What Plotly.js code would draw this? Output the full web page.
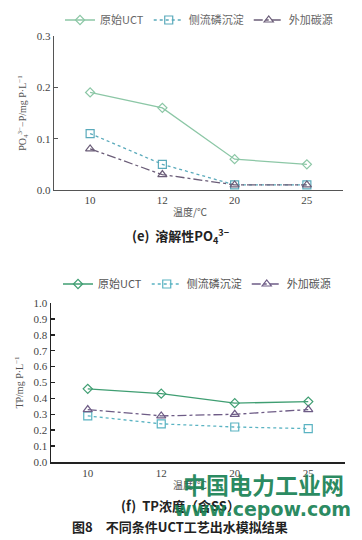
<!DOCTYPE html>
<html><head><meta charset="utf-8">
<script src="https://cdn.plot.ly/plotly-3.0.1.min.js"></script>
<style>body{margin:0;background:#fff}#c{width:362px;height:540px}</style>
</head><body><div id="c"></div>
<script>
const categories = ['10','12','20','25'];
const seriesNames = ['原始UCT','侧流磷沉淀','外加碳源'];
// (e) soluble PO4 3-
const poUCT = [0.19, 0.16, 0.06, 0.05];
const poSide = [0.11, 0.05, 0.01, 0.01];
const poCarbon = [0.08, 0.03, 0.01, 0.01];
// (f) TP
const tpUCT = [0.46, 0.43, 0.37, 0.38];
const tpSide = [0.29, 0.24, 0.22, 0.21];
const tpCarbon = [0.33, 0.29, 0.30, 0.33];
const yTicksTop = [0, 0.1, 0.2, 0.3];
const yTicksBot = [0,0.1,0.2,0.3,0.4,0.5,0.6,0.7,0.8,0.9,1.0];

const topCols = ['#8cc7a6','#5aaabb','#6b5d78'];
const botCols = ['#3f9e72','#5ab3c2','#6e5c86'];
const dashes = ['solid','dot','dashdot'];
const syms = ['diamond-open','square-open','triangle-up-open'];
const msz = [7,8,8];

function mk(y, i, cols, xa, ya, lg){
  return {x: categories, y: y, name: seriesNames[i], type:'scatter', mode:'lines+markers',
    xaxis: xa, yaxis: ya, legend: lg,
    line:{color: cols[i], width: 1.3, dash: dashes[i]},
    marker:{symbol: syms[i], size: msz[i], color: cols[i], line:{width:1.2, color: cols[i]}}};
}
const data = [
  mk(poUCT,0,topCols,'x','y','legend'), mk(poSide,1,topCols,'x','y','legend'), mk(poCarbon,2,topCols,'x','y','legend'),
  mk(tpUCT,0,botCols,'x2','y2','legend2'), mk(tpSide,1,botCols,'x2','y2','legend2'), mk(tpCarbon,2,botCols,'x2','y2','legend2')
];
const tickFont = {family:'Liberation Serif, serif', size:11, color:'#444'};
const xcommon = {type:'category', range:[-0.5,3.5], showgrid:false, zeroline:false, showline:true,
  linecolor:'#555', linewidth:1.2, ticks:'', tickfont: tickFont, fixedrange:true};
const ycommon = {showgrid:false, zeroline:false, showline:true, linecolor:'#555', linewidth:1.2,
  ticks:'inside', ticklen:4, tickcolor:'#555', tickfont: tickFont, tickformat:'.1f'};
const W=362, H=540;
const green = 'rgba(22,128,82,0.92)';
function ann(text, x, y, font){
  return {text:text, x:x/W, y:1-y/H, xref:'paper', yref:'paper', xanchor:'center', yanchor:'middle', showarrow:false, font:font};
}
const layout = {
  width: W, height: H, margin:{l:0,r:0,t:0,b:0}, paper_bgcolor:'#fff', plot_bgcolor:'#fff',
  showlegend:true,
  xaxis: Object.assign({}, xcommon, {domain:[54/W, 343/W], anchor:'y'}),
  yaxis: Object.assign({}, ycommon, {domain:[1-190/H, 1-36/H], range:[0,0.3], tickvals:yTicksTop, anchor:'x',
    title:{text:'PO<sub>4</sub><sup>3−</sup>−P/mg P·L<sup>−1</sup>', font:{family:'Liberation Serif, Noto Sans CJK SC, serif', size:10, color:'#555'}, standoff:8}}),
  xaxis2: Object.assign({}, xcommon, {domain:[51/W, 345/W], anchor:'y2', linecolor:'#222', linewidth:1.5}),
  yaxis2: Object.assign({}, ycommon, {domain:[1-462/H, 1-303/H], range:[0,1.0], tickvals:yTicksBot, anchor:'x2',
    linecolor:'#222', linewidth:1.5, tickcolor:'#222', tickwidth:1.5,
    title:{text:'TP/mg P·L<sup>−1</sup>', font:{family:'Liberation Serif, serif', size:10, color:'#555'}, standoff:8}}),
  legend: {orientation:'h', x:60/W, y:1-20/H, xanchor:'left', yanchor:'middle', bgcolor:'rgba(0,0,0,0)',
    font:{family:'Noto Sans CJK SC, sans-serif', size:11, color:'#666'}, itemwidth:30, traceorder:'normal'},
  legend2: {orientation:'h', x:58/W, y:1-284/H, xanchor:'left', yanchor:'middle', bgcolor:'rgba(0,0,0,0)',
    font:{family:'Noto Sans CJK SC, sans-serif', size:11, color:'#555'}, itemwidth:30, traceorder:'normal'},
  annotations: [
    ann('温度/℃', 190, 211, {family:'Noto Sans CJK SC', size:10, color:'#555'}),
    ann('<b>(e)  溶解性PO<sub>4</sub><sup>3−</sup></b>', 180, 236, {family:'Noto Sans CJK SC, Liberation Serif', size:13, color:'#222'}),
    ann('温度/℃', 190, 484, {family:'Noto Sans CJK SC', size:10, color:'#555'}),
    ann('<b>(f)  TP浓度（含SS）</b>', 180, 505, {family:'Noto Sans CJK SC, Liberation Serif', size:13, color:'#222'}),
    ann('<b>图8　不同条件UCT工艺出水模拟结果</b>', 180, 526, {family:'Noto Sans CJK SC', size:13, color:'#222'}),
    ann('<b>中国电力工业网</b>', 263, 484, {family:'Noto Sans CJK SC', size:23, color:green}),
    ann('<b>www.cepow.com</b>', 262, 509, {family:'DejaVu Sans, sans-serif', size:19, color:green})
  ]
};
Plotly.newPlot('c', data, layout, {staticPlot:true, displayModeBar:false});
</script></body></html>
